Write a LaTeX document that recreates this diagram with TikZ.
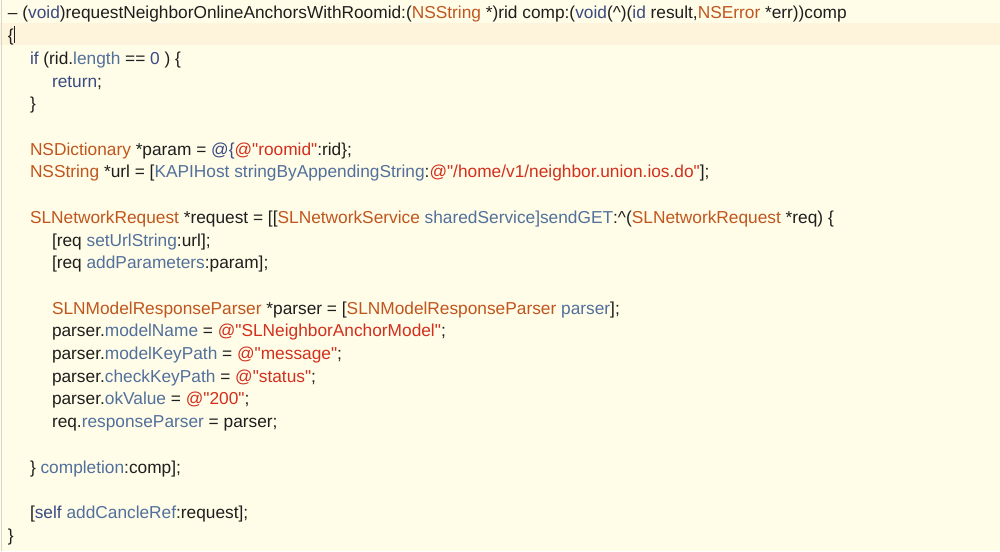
\documentclass[tikz,border=0pt]{standalone}
\usepackage{fontspec}
\setmainfont{Liberation Sans}
\definecolor{bgc}{HTML}{FFFCE8}
\definecolor{hlc}{HTML}{FEF4DB}
\definecolor{txc}{HTML}{1E1E1E}
\definecolor{kwc}{HTML}{3A4A82}
\definecolor{mec}{HTML}{52709C}
\definecolor{tyc}{HTML}{C0561E}
\definecolor{stc}{HTML}{D2301E}
\definecolor{edgec}{HTML}{D8D6CC}
\newcommand\Kw[1]{\textcolor{kwc}{#1}}
\newcommand\Me[1]{\textcolor{mec}{#1}}
\newcommand\Ty[1]{\textcolor{tyc}{#1}}
\newcommand\St[1]{\textcolor{stc}{#1}}
\newcommand\qq{\textquotedbl}
\tikzset{codeline/.style={anchor=base west,inner sep=0pt,outer sep=0pt,text=txc,font=\fontsize{17.3}{19}\selectfont}}
\begin{document}
\begin{tikzpicture}[x=1pt,y=-1pt]
\fill[bgc] (0,0) rectangle (1000,551);
\useasboundingbox (0,0) rectangle (1000,551);
\fill[hlc] (0,23) rectangle (1000,45);
\draw[edgec,line width=1pt] (1.5,0) -- (1.5,551);
\def\lh{22.7}
\def\bl{19}
\node[codeline] (l0) at (8,\bl) {\textendash{} (\Kw{void})requestNeighborOnlineAnchorsWithRoomid:(\Ty{NSString} *)rid comp:(\Kw{void}(\textasciicircum)(\Kw{id} result,\Ty{NSError} *err))comp};
\node[codeline] (l1) at (8,\bl+1*\lh) {\{};
\draw[txc,line width=0.8pt] (14.5,26) -- (14.5,43);
\node[codeline] (l2) at (30,\bl+2*\lh) {\Kw{if} (rid.\Me{length} == \Kw{0} ) \{};
\node[codeline] (l3) at (52,\bl+3*\lh) {\Kw{return};};
\node[codeline] (l4) at (30,\bl+4*\lh) {\}};
\node[codeline] (l6) at (30,\bl+6*\lh) {\Ty{NSDictionary} *param = \Kw{@\{}\St{@\qq roomid\qq}:rid\};};
\node[codeline] (l7) at (30,\bl+7*\lh) {\Ty{NSString} *url = [\Me{KAPIHost stringByAppendingString}:\St{@\qq/home/v1/neighbor.union.ios.do\qq}];};
\node[codeline] (l9) at (30,\bl+9*\lh) {\Ty{SLNetworkRequest} *request = [[\Ty{SLNetworkService} \Me{sharedService]sendGET}:\textasciicircum(\Ty{SLNetworkRequest} *req) \{};
\node[codeline] (l10) at (52,\bl+10*\lh) {[req \Me{setUrlString}:url];};
\node[codeline] (l11) at (52,\bl+11*\lh) {[req \Me{addParameters}:param];};
\node[codeline] (l13) at (52,\bl+13*\lh) {\Ty{SLNModelResponseParser} *parser = [\Ty{SLNModelResponseParser} \Me{parser}];};
\node[codeline] (l14) at (52,\bl+14*\lh) {parser.\Me{modelName} = \St{@\qq SLNeighborAnchorModel\qq};};
\node[codeline] (l15) at (52,\bl+15*\lh) {parser.\Me{modelKeyPath} = \St{@\qq message\qq};};
\node[codeline] (l16) at (52,\bl+16*\lh) {parser.\Me{checkKeyPath} = \St{@\qq status\qq};};
\node[codeline] (l17) at (52,\bl+17*\lh) {parser.\Me{okValue} = \St{@\qq 200\qq};};
\node[codeline] (l18) at (52,\bl+18*\lh) {req.\Me{responseParser} = parser;};
\node[codeline] (l20) at (30,\bl+20*\lh) {\} \Me{completion}:comp];};
\node[codeline] (l22) at (30,\bl+22*\lh) {[\Kw{self} \Me{addCancleRef}:request];};
\node[codeline] (l23) at (8,\bl+23*\lh) {\}};
\end{tikzpicture}
\end{document}
